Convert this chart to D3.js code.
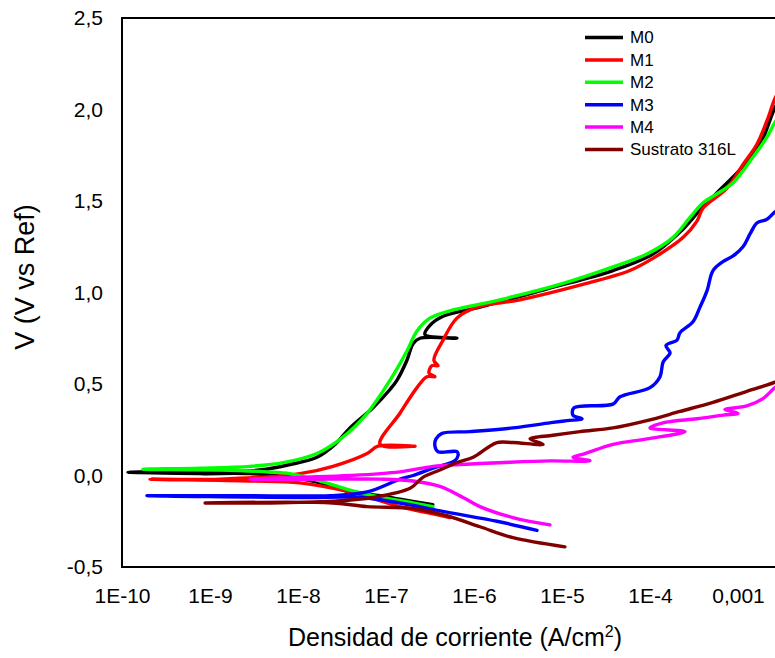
<!DOCTYPE html>
<html>
<head>
<meta charset="utf-8">
<script src="https://cdn.jsdelivr.net/npm/d3@7"></script>
<style>
  body { margin: 0; background: #fff; }
  svg { display: block; font-family: "Liberation Sans", Arial, sans-serif; }
</style>
</head>
<body>
<svg id="chart" width="775" height="658"></svg>
<script>
// Potentiodynamic polarization curves: current density (A/cm²) vs potential (V vs Ref)
const seriesNames = ["M0", "M1", "M2", "M3", "M4", "Sustrato 316L"];
const seriesColors = ["#000000", "#ff0000", "#00ff00", "#0000ff", "#ff00ff", "#800000"];

const m0Current = [3.4e-7, 1.44e-7, 8.6e-8, 3.9e-8, 1.78e-8, 8.1e-9, 2.85e-9, 7.7e-10, 1.6e-10, 1.17e-10,
  2.7e-10, 1.3e-9, 3.7e-9, 8.1e-9, 1.64e-8, 2.63e-8, 3.9e-8, 7.1e-8, 1.11e-7, 1.33e-7, 1.73e-7, 2.03e-7,
  2.43e-7, 6.4e-7, 2.77e-7, 3.16e-7, 4.45e-7, 1.17e-6, 6.8e-6, 3.8e-5, 1.08e-4, 2.19e-4, 3.7e-4, 6.2e-4,
  1.05e-3, 1.78e-3, 2.63e-3, 3.16e-3];
const m0Potential = [-0.16, -0.13, -0.11, -0.09, -0.04, -0.01, 0.01, 0.01, 0.016, 0.018,
  0.02, 0.02, 0.03, 0.06, 0.10, 0.17, 0.26, 0.37, 0.47, 0.52, 0.63, 0.72,
  0.75, 0.75, 0.77, 0.82, 0.87, 0.92, 1.02, 1.12, 1.21, 1.33, 1.45, 1.56,
  1.67, 1.81, 2.01, 2.07];

const m1Current = [5.3e-7, 3.42e-7, 1.44e-7, 3.9e-8, 1.05e-8, 2.85e-9, 2.08e-10,
  1.3e-9, 1.05e-8, 2.5e-8, 6.1e-8, 8.1e-8, 2.14e-7, 8.55e-8, 1.44e-7, 2.25e-7, 2.92e-7, 3.6e-7, 3.08e-7,
  3.33e-7, 3.9e-7, 3.5e-7, 4.45e-7, 6.4e-7, 1.08e-6, 3.33e-6, 1.6e-5, 5.9e-5, 1.2e-4, 2.37e-4, 3.42e-4,
  4.0e-4, 7.5e-4, 1.14e-3, 1.64e-3, 2.14e-3, 2.63e-3, 3.16e-3];
const m1Potential = [-0.23, -0.21, -0.17, -0.09, -0.04, -0.03, -0.02,
  -0.02, 0.01, 0.05, 0.12, 0.16, 0.16, 0.17, 0.34, 0.48, 0.54, 0.54, 0.56,
  0.60, 0.60, 0.63, 0.74, 0.86, 0.92, 0.96, 1.04, 1.12, 1.20, 1.30, 1.39,
  1.46, 1.57, 1.70, 1.81, 1.94, 2.06, 2.13];

const m2Current = [3.42e-7, 2.03e-7, 7.1e-8, 3.9e-8, 1.78e-8, 8.1e-9, 4.45e-9, 1.3e-9, 1.73e-10,
  7.7e-10, 2.85e-9, 6.8e-9, 1.64e-8, 3.24e-8, 6.1e-8, 1.11e-7, 1.73e-7, 2.25e-7, 3.16e-7, 5.3e-7,
  1.97e-6, 1.03e-5, 3.8e-5, 9.2e-5, 1.82e-4, 2.85e-4, 4.0e-4, 5.8e-4, 8.8e-4, 1.48e-3, 2.14e-3,
  2.63e-3, 3.42e-3];
const m2Potential = [-0.17, -0.15, -0.11, -0.08, -0.03, 0.01, 0.02, 0.03, 0.034,
  0.04, 0.05, 0.07, 0.12, 0.21, 0.34, 0.52, 0.68, 0.79, 0.86, 0.90,
  0.96, 1.05, 1.14, 1.21, 1.30, 1.41, 1.49, 1.54, 1.60, 1.74, 1.85,
  1.93, 2.00];

const m3Current = [5.2e-6, 1.82e-6, 4.9e-7, 1.44e-7, 5.07e-8, 1.05e-8, 1.92e-10,
  2.85e-9, 2.31e-8, 6.1e-8, 1.44e-7, 2.03e-7, 3.42e-7, 6.0e-7, 6.6e-7, 6.4e-7, 3.9e-7, 3.6e-7, 3.7e-7,
  4.33e-7, 9.0e-7, 2.77e-6, 7.9e-6, 1.14e-5, 1.69e-5, 1.33e-5, 1.37e-5, 3.8e-5, 4.56e-5, 1.0e-4,
  1.3e-4, 1.41e-4, 1.69e-4, 1.52e-4, 2.03e-4, 2.19e-4, 3.08e-4, 3.7e-4, 4.45e-4, 5.2e-4, 6.8e-4,
  8.8e-4, 1.14e-3, 1.37e-3, 1.64e-3, 2.14e-3, 2.63e-3, 3.42e-3];
const m3Potential = [-0.30, -0.25, -0.20, -0.15, -0.12, -0.12, -0.11,
  -0.11, -0.11, -0.09, -0.02, 0.0, 0.04, 0.08, 0.11, 0.13, 0.13, 0.16, 0.20,
  0.23, 0.24, 0.26, 0.29, 0.30, 0.31, 0.33, 0.37, 0.39, 0.43, 0.48,
  0.54, 0.62, 0.67, 0.71, 0.74, 0.78, 0.84, 0.92, 1.01, 1.12, 1.17,
  1.20, 1.25, 1.32, 1.38, 1.40, 1.44, 1.47];

const m4Current = [7.3e-6, 2.77e-6, 1.17e-6, 7.5e-7, 4.1e-7, 2.03e-7, 8.55e-8, 2.5e-8, 2.85e-9,
  1.05e-8, 3.9e-8, 1.44e-7, 3.42e-7, 6.9e-7, 1.97e-6, 7.3e-6, 2.08e-5, 1.33e-5, 1.82e-5, 3.8e-5,
  9.2e-5, 2.5e-4, 1.0e-4, 1.48e-4, 3.42e-4, 6.8e-4, 1.0e-3, 7.1e-4, 1.26e-3, 1.92e-3, 2.63e-3, 3.42e-3];
const m4Potential = [-0.27, -0.23, -0.17, -0.12, -0.06, -0.03, -0.02, -0.02, -0.02,
  -0.01, 0.0, 0.02, 0.05, 0.06, 0.07, 0.08, 0.08, 0.10, 0.12, 0.17,
  0.20, 0.24, 0.26, 0.29, 0.31, 0.33, 0.34, 0.36, 0.38, 0.42, 0.48, 0.52];

const substrateCurrent = [1.08e-5, 2.77e-6, 1.17e-6, 4.9e-7, 2.03e-7, 6.1e-8, 2.5e-8, 8.8e-10,
  4.8e-9, 2.5e-8, 7.1e-8, 1.88e-7, 2.63e-7, 4.1e-7, 6.4e-7, 9.8e-7, 1.41e-6, 1.82e-6, 2.77e-6,
  6.1e-6, 4.33e-6, 7.9e-6, 1.6e-5, 3.8e-5, 9.2e-5, 2.19e-4, 5.2e-4, 1.26e-3, 2.63e-3, 3.42e-3];
const substratePotential = [-0.39, -0.34, -0.28, -0.22, -0.18, -0.17, -0.15, -0.15,
  -0.15, -0.14, -0.12, -0.07, -0.01, 0.03, 0.07, 0.10, 0.15, 0.18, 0.18,
  0.17, 0.20, 0.22, 0.24, 0.26, 0.30, 0.35, 0.40, 0.46, 0.51, 0.54];

const xTickValues = [1e-10, 1e-9, 1e-8, 1e-7, 1e-6, 1e-5, 1e-4, 1e-3];
const xTickLabels = ["1E-10", "1E-9", "1E-8", "1E-7", "1E-6", "1E-5", "1E-4", "0,001"];
const yTickValues = [-0.5, 0, 0.5, 1, 1.5, 2, 2.5];
const yTickLabels = ["-0,5", "0,0", "0,5", "1,0", "1,5", "2,0", "2,5"];

const seriesData = [
  d3.zip(m0Current, m0Potential),
  d3.zip(m1Current, m1Potential),
  d3.zip(m2Current, m2Potential),
  d3.zip(m3Current, m3Potential),
  d3.zip(m4Current, m4Potential),
  d3.zip(substrateCurrent, substratePotential)
];

const svg = d3.select("#chart");
const plot = { left: 122, top: 18, right: 826, bottom: 567 };

const x = d3.scaleLog().domain([1e-10, 1e-2]).range([plot.left, plot.right]);
const y = d3.scaleLinear().domain([-0.5, 2.5]).range([plot.bottom, plot.top]);

svg.append("rect").attr("width", 775).attr("height", 658).attr("fill", "#fff");

svg.append("clipPath").attr("id", "plot-clip")
  .append("rect")
  .attr("x", plot.left).attr("y", plot.top)
  .attr("width", plot.right - plot.left).attr("height", plot.bottom - plot.top);

// curves
const line = d3.line()
  .x(d => x(d[0]))
  .y(d => y(d[1]))
  .curve(d3.curveCatmullRom.alpha(0.5));

svg.append("g").attr("clip-path", "url(#plot-clip)")
  .selectAll("path")
  .data(seriesData)
  .join("path")
  .attr("d", line)
  .attr("fill", "none")
  .attr("stroke", (d, i) => seriesColors[i])
  .attr("stroke-width", 3.4)
  .attr("stroke-linejoin", "round")
  .attr("stroke-linecap", "round");

// axes (labels only, no tick marks)
const yAxis = svg.append("g")
  .attr("transform", `translate(${plot.left},0)`)
  .call(d3.axisLeft(y).tickValues(yTickValues)
    .tickFormat((d, i) => yTickLabels[i]).tickSize(0).tickPadding(19));
const xAxis = svg.append("g")
  .attr("transform", `translate(0,${plot.bottom})`)
  .call(d3.axisBottom(x).tickValues(xTickValues)
    .tickFormat((d, i) => xTickLabels[i]).tickSize(0).tickPadding(21));
[xAxis, yAxis].forEach(g => {
  g.select(".domain").remove();
  g.selectAll("text").attr("font-size", 21).attr("fill", "#000")
    .attr("font-family", "'Liberation Sans', Arial, sans-serif");
});

// plot frame
svg.append("path")
  .attr("d", `M${plot.right},${plot.top}H${plot.left}V${plot.bottom}H${plot.right}`)
  .attr("fill", "none").attr("stroke", "#000").attr("stroke-width", 2);

// axis titles
const xTitle = svg.append("text")
  .attr("x", 455).attr("y", 646)
  .attr("text-anchor", "middle").attr("font-size", 25).attr("fill", "#000");
xTitle.append("tspan").text("Densidad de corriente (A/cm");
xTitle.append("tspan").attr("dy", -9).attr("font-size", 16).text("2");
xTitle.append("tspan").attr("dy", 9).text(")");

svg.append("text")
  .attr("transform", "translate(34,277) rotate(-90)")
  .attr("text-anchor", "middle").attr("font-size", 27).attr("fill", "#000")
  .text("V (V vs Ref)");

// legend
const legend = svg.append("g").attr("transform", "translate(585,37.5)");
const rows = legend.selectAll("g").data(seriesNames).join("g")
  .attr("transform", (d, i) => `translate(0,${i * 22.4})`);
rows.append("line")
  .attr("x1", 0).attr("x2", 38).attr("y1", 0).attr("y2", 0)
  .attr("stroke", (d, i) => seriesColors[i]).attr("stroke-width", 3.5);
rows.append("text")
  .attr("x", 45).attr("y", 0).attr("dy", "0.35em")
  .attr("font-size", 17).attr("fill", "#000")
  .text(d => d);
</script>
</body>
</html>
